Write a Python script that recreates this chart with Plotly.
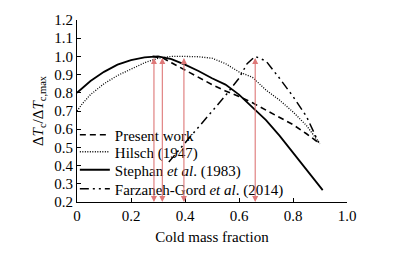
import plotly.graph_objects as go

# Present work (dashed)
pw_x = [0.28, 0.32, 0.35, 0.40, 0.45, 0.50, 0.55, 0.60, 0.65, 0.70, 0.75, 0.80, 0.85, 0.90]
pw_y = [1.00, 0.99, 0.965, 0.925, 0.885, 0.845, 0.81, 0.78, 0.745, 0.705, 0.665, 0.625, 0.575, 0.52]

# Hilsch (1947) (dotted)
hi_x = [0.0, 0.02, 0.05, 0.10, 0.15, 0.20, 0.25, 0.30, 0.35, 0.40, 0.45, 0.50, 0.55, 0.60, 0.65, 0.70, 0.75, 0.80, 0.85, 0.90]
hi_y = [0.70, 0.74, 0.79, 0.85, 0.895, 0.93, 0.965, 0.99, 1.00, 1.00, 0.998, 0.99, 0.96, 0.915, 0.885, 0.815, 0.76, 0.695, 0.62, 0.52]

# Stephan et al. (1983) (solid)
st_x = [0.0, 0.05, 0.10, 0.15, 0.20, 0.25, 0.30, 0.35, 0.40, 0.45, 0.50, 0.55, 0.60, 0.65, 0.70, 0.75, 0.80, 0.85, 0.90, 0.91]
st_y = [0.80, 0.865, 0.915, 0.955, 0.98, 0.995, 1.00, 0.985, 0.955, 0.92, 0.88, 0.845, 0.79, 0.72, 0.65, 0.565, 0.47, 0.375, 0.28, 0.265]

# Farzaneh-Gord et al. (2014) (dash-dot)
fg_x = [0.34, 0.40, 0.45, 0.50, 0.55, 0.60, 0.63, 0.66, 0.70, 0.75, 0.80, 0.85, 0.90]
fg_y = [0.42, 0.525, 0.615, 0.70, 0.785, 0.88, 0.96, 1.00, 0.975, 0.88, 0.78, 0.67, 0.51]

# Optimum cold mass fractions (red arrows)
opt_x = [0.285, 0.316, 0.396, 0.66]
arrow_top = 1.0
arrow_bottom = 0.2

x_ticks = [0, 0.2, 0.4, 0.6, 0.8, 1.0]
x_tick_labels = ["0", "0.2", "0.4", "0.6", "0.8", "1.0"]
y_ticks = [0.2, 0.3, 0.4, 0.5, 0.6, 0.7, 0.8, 0.9, 1.0, 1.1, 1.2]
y_tick_labels = ["0.2", "0.3", "0.4", "0.5", "0.6", "0.7", "0.8", "0.9", "1.0", "1.1", "1.2"]

FONT = "Liberation Serif, Times New Roman, serif"
FS = 15

fig = go.Figure()
fig.add_trace(go.Scatter(x=pw_x, y=pw_y, mode="lines", name="Present work", legend="legend",
                         line=dict(color="black", width=1.6, dash="6px,4px")))
fig.add_trace(go.Scatter(x=hi_x, y=hi_y, mode="lines", name="Hilsch (1947)", legend="legend2",
                         line=dict(color="black", width=1.3, dash="1px,1.5px")))
fig.add_trace(go.Scatter(x=st_x, y=st_y, mode="lines", name="Stephan <i>et al</i>. (1983)", legend="legend3",
                         line=dict(color="black", width=1.8)))
fig.add_trace(go.Scatter(x=fg_x, y=fg_y, mode="lines", name="Farzaneh-Gord <i>et al</i>. (2014)", legend="legend4",
                         line=dict(color="black", width=1.5, dash="9px,4px,2px,4px,2px,4px")))

for xv in opt_x:
    fig.add_annotation(x=xv, y=arrow_bottom, ax=xv, ay=arrow_top, xref="x", yref="y",
                       axref="x", ayref="y", text="", showarrow=True,
                       arrowhead=2, startarrowhead=2, arrowside="end+start",
                       arrowsize=1.1, startarrowsize=1.1,
                       arrowwidth=1.1, arrowcolor="rgb(222,120,120)")

# page body adds an 8px offset; plot area is placed so that it lands at
# x 77..347, y 20..202 of the window
def leg(ypix):
    return dict(x=-0.008, y=(202 - ypix) / 182, xanchor="left", yanchor="middle",
                bgcolor="rgba(0,0,0,0)", font=dict(family=FONT, size=FS),
                itemwidth=30)

fig.update_layout(
    width=390, height=247,
    margin=dict(l=69, r=51, t=12, b=53, autoexpand=False),
    paper_bgcolor="white", plot_bgcolor="white",
    font=dict(family=FONT, size=FS, color="black"),
    showlegend=True,
    legend=leg(135), legend2=leg(152), legend3=leg(170), legend4=leg(189),
    xaxis=dict(range=[0, 1.0], tickvals=x_ticks, ticktext=x_tick_labels,
               ticks="inside", ticklen=4, tickcolor="black",
               showline=True, linecolor="black", linewidth=1,
               showgrid=False, zeroline=False, automargin=False,
               title=dict(text="Cold mass fraction", font=dict(size=FS), standoff=8)),
    yaxis=dict(range=[0.2, 1.2], tickvals=y_ticks, ticktext=y_tick_labels,
               ticks="inside", ticklen=4, tickcolor="black",
               showline=True, linecolor="black", linewidth=1,
               showgrid=False, zeroline=False, automargin=False,
               title=dict(text="Δ<i>T</i><sub>c</sub>/Δ<i>T</i><sub>c,max</sub>",
                          font=dict(size=FS), standoff=7)),
)

fig.write_html("out.html")
